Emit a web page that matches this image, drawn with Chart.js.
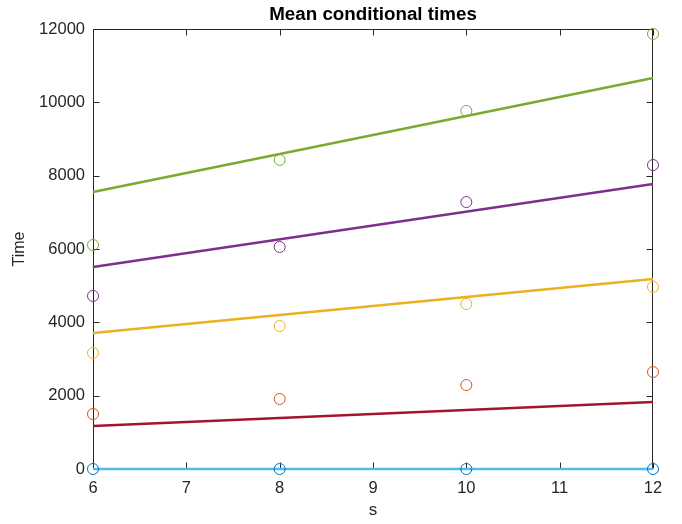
<!DOCTYPE html>
<html>
<head>
<meta charset="utf-8">
<script src="https://cdn.jsdelivr.net/npm/chart.js@4"></script>
<style>
html,body{margin:0;padding:0;background:#fff;}
#wrap{width:682px;height:524px;}
</style>
</head>
<body>
<div id="wrap"><canvas id="c" width="682" height="524"></canvas></div>
<script>
// Data
const sValues = [6, 8, 10, 12];
const timesBlue   = [0, 0, 0, 0];
const timesOrange = [1500, 1910, 2290, 2645];
const timesYellow = [3165, 3900, 4500, 4965];
const timesPurple = [4720, 6055, 7280, 8290];
const timesGreen  = [6110, 8430, 9765, 11865];

const fitX = [6, 12];
const fitBlue   = [0, 0];
const fitRed    = [1175, 1830];
const fitYellow = [3710, 5180];
const fitPurple = [5510, 7775];
const fitGreen  = [7555, 10665];

const xTicks = [6, 7, 8, 9, 10, 11, 12];
const yTicks = [0, 2000, 4000, 6000, 8000, 10000, 12000];
const titleText = 'Mean conditional times';

const pts = (xs, ys) => xs.map((v, i) => ({x: v, y: ys[i]}));

function pointSet(label, ys, color) {
  return {
    label, data: pts(sValues, ys), showLine: false,
    pointStyle: 'circle', pointRadius: 5.5, pointHoverRadius: 5.5,
    pointBorderWidth: 1, pointBorderColor: color,
    pointBackgroundColor: 'rgba(0,0,0,0)', borderColor: color,
    backgroundColor: 'rgba(0,0,0,0)', clip: false
  };
}
function lineSet(label, ys, color) {
  return {
    label, data: pts(fitX, ys), showLine: true,
    borderColor: color, borderWidth: 2.5, pointRadius: 0, pointHoverRadius: 0,
    backgroundColor: color, fill: false, tension: 0, clip: false
  };
}

const AX = '#262626';
const FONT = '"Liberation Sans", Arial, Helvetica, sans-serif';

const boxTicks = {
  id: 'boxTicks',
  beforeDatasetsDraw(chart) {
    const {ctx, chartArea: a, scales: {x, y}} = chart;
    ctx.save();
    ctx.strokeStyle = AX;
    ctx.lineWidth = 1;
    const L = Math.round(a.left) + 0.5, R = Math.round(a.right) - 0.5;
    const T = Math.round(a.top) + 0.5, B = Math.round(a.bottom) - 0.5;
    ctx.strokeRect(L, T, R - L, B - T);
    const len = 6;
    ctx.beginPath();
    xTicks.forEach(v => {
      const p = Math.round(x.getPixelForValue(v)) + 0.5;
      ctx.moveTo(p, B); ctx.lineTo(p, B - len);
      ctx.moveTo(p, T); ctx.lineTo(p, T + len);
    });
    yTicks.forEach(v => {
      const p = Math.round(y.getPixelForValue(v)) + 0.5;
      ctx.moveTo(L, p); ctx.lineTo(L + len, p);
      ctx.moveTo(R, p); ctx.lineTo(R - len, p);
    });
    ctx.stroke();
    // title centred over the plot area (MATLAB style)
    ctx.fillStyle = '#000';
    ctx.font = 'bold 18.8px ' + FONT;
    ctx.textAlign = 'center';
    ctx.textBaseline = 'alphabetic';
    ctx.fillText(titleText, (a.left + a.right) / 2, 20);
    ctx.restore();
  }
};

new Chart(document.getElementById('c'), {
  type: 'scatter',
  data: {
    datasets: [
      pointSet('s1 data', timesBlue, '#0072BD'),
      pointSet('s2 data', timesOrange, '#D95319'),
      pointSet('s3 data', timesYellow, '#EDB120'),
      pointSet('s4 data', timesPurple, '#7E2F8E'),
      pointSet('s5 data', timesGreen, '#77AC30'),
      lineSet('s1 fit', fitBlue, '#4DBEEE'),
      lineSet('s2 fit', fitRed, '#A2142F'),
      lineSet('s3 fit', fitYellow, '#EDB120'),
      lineSet('s4 fit', fitPurple, '#7E2F8E'),
      lineSet('s5 fit', fitGreen, '#77AC30')
    ]
  },
  options: {
    responsive: false,
    animation: false,
    layout: {padding: {left: 0, right: 29, top: 29, bottom: 0}},
    plugins: {
      legend: {display: false},
      tooltip: {enabled: false},
      title: {display: false}
    },
    scales: {
      x: {
        type: 'linear', min: 6, max: 12,
        grid: {display: false, drawTicks: false},
        border: {display: false},
        afterBuildTicks: s => { s.ticks = xTicks.map(v => ({value: v})); },
        afterFit: s => { s.height = 55; },
        ticks: {color: AX, font: {family: FONT, size: 16.5}, padding: 10, maxRotation: 0},
        title: {display: true, text: 's', color: AX, font: {family: FONT, size: 17}, padding: {top: 0, bottom: 3}}
      },
      y: {
        type: 'linear', min: 0, max: 12000,
        grid: {display: false, drawTicks: false},
        border: {display: false},
        afterBuildTicks: s => { s.ticks = yTicks.map(v => ({value: v})); },
        afterFit: s => { s.width = 93; },
        ticks: {color: AX, font: {family: FONT, size: 16.5}, padding: 8, callback: v => String(v)},
        title: {display: true, text: 'Time', color: AX, font: {family: FONT, size: 16}, padding: {top: 10, bottom: 0}}
      }
    }
  },
  plugins: [boxTicks]
});
</script>
</body>
</html>
